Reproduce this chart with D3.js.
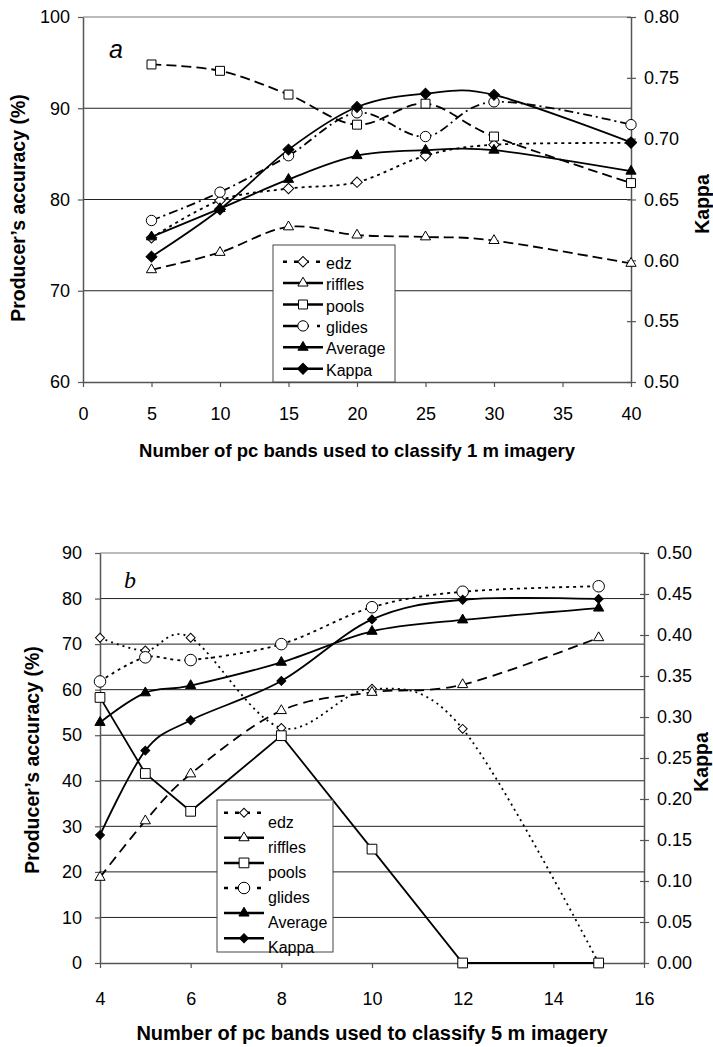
<!DOCTYPE html>
<html>
<head>
<meta charset="utf-8">
<script src="https://cdn.jsdelivr.net/npm/d3@7"></script>
<style>
  body { margin: 0; background: #fff; }
  svg { display: block; font-family: "Liberation Sans", Arial, sans-serif; }
</style>
</head>
<body>
<div id="chart"></div>
<script>
// Panel a - 1 m imagery
const bandsA = [5, 10, 15, 20, 25, 30, 40];
const edzA = [75.8, 79.9, 81.2, 81.9, 84.8, 86.0, 86.2];
const rifflesA = [72.3, 74.2, 77.0, 76.1, 75.9, 75.5, 73.0];
const poolsA = [94.8, 94.1, 91.5, 88.2, 90.5, 86.9, 81.8];
const glidesA = [77.7, 80.8, 84.8, 89.5, 86.9, 90.7, 88.2];
const averageA = [75.9, 79.0, 82.2, 84.8, 85.4, 85.4, 83.1];
const kappaA = [0.603, 0.642, 0.691, 0.726, 0.737, 0.736, 0.697];

// Panel b - 5 m imagery
const bandsB = [4, 5, 6, 8, 10, 12, 15];
const edzB = [71.4, 68.6, 71.4, 51.6, 60.2, 51.4, 0];
const rifflesB = [18.8, 31.2, 41.5, 55.4, 59.4, 61.1, 71.4];
const poolsB = [58.3, 41.6, 33.3, 49.9, 25.0, 0, 0];
const glidesB = [61.8, 67.1, 66.5, 70.0, 78.1, 81.5, 82.7];
const averageB = [52.8, 59.3, 60.9, 66.0, 72.8, 75.3, 77.9];
const kappaB = [0.156, 0.259, 0.296, 0.344, 0.419, 0.443, 0.444];

// Tick values
const ticksA = { x: d3.range(0, 41, 5), y: [60, 70, 80, 90, 100], k: [0.5, 0.55, 0.6, 0.65, 0.7, 0.75, 0.8] };
const ticksB = { x: d3.range(4, 17, 2), y: d3.range(0, 91, 10), k: d3.range(0, 11).map((i) => i * 0.05) };

const svg = d3.select("#chart").append("svg").attr("width", 713).attr("height", 1047);

const smooth = d3.curveCardinal.tension(0);

// draw a symbol at a point
function marker(g, shape, x, y, filled, size) {
  let type = d3.symbolCircle, rot = 0;
  if (shape === "diamond") { type = d3.symbolSquare; rot = 45; }
  if (shape === "square") type = d3.symbolSquare;
  if (shape === "triangle") type = d3.symbolTriangle;
  g.append("path")
    .attr("d", d3.symbol().type(type).size(size)())
    .attr("transform", `translate(${x},${y}) rotate(${rot})`)
    .attr("fill", filled ? "#000" : "#fff")
    .attr("stroke", "#000")
    .attr("stroke-width", 1);
}

function drawPanel(p) {
  const g = svg.append("g");
  const [x0, x1] = p.x.range();
  const [y0, y1] = p.y.range();

  // gridlines
  p.grid.forEach((v) => {
    g.append("line")
      .attr("x1", x0).attr("x2", x1)
      .attr("y1", p.y(v)).attr("y2", p.y(v))
      .attr("stroke", v === p.y.domain()[1] ? "#777" : "#222")
      .attr("stroke-width", 1);
  });

  // axes
  const left = g.append("g").attr("transform", `translate(${x0},0)`)
    .call(d3.axisLeft(p.y).tickValues(p.ticks.y).tickSize(5).tickSizeOuter(0).tickPadding(p.padL));
  const right = g.append("g").attr("transform", `translate(${x1},0)`)
    .call(d3.axisRight(p.k).tickValues(p.ticks.k).tickFormat(d3.format(".2f")).tickSize(5).tickSizeOuter(0).tickPadding(8));
  right.selectAll(".tick line").attr("x1", -4);
  const bottom = g.append("g").attr("transform", `translate(0,${y0})`)
    .call(d3.axisBottom(p.x).tickValues(p.ticks.x).tickSize(5).tickSizeOuter(0).tickPadding(p.padB));
  [left, right, bottom].forEach((a) => {
    a.select(".domain").attr("stroke", "#555").attr("stroke-width", 1.5);
    a.selectAll(".tick line").attr("stroke", "#555").attr("stroke-width", 1.2);
    a.selectAll("text").attr("font-size", 18).attr("fill", "#000")
      .attr("font-family", '"Liberation Sans", Arial, sans-serif');
  });

  // series
  p.series.forEach((s) => {
    const yScale = s.kappa ? p.k : p.y;
    const pts = p.bands.map((b, i) => [p.x(b), yScale(s.values[i])]);
    g.append("path")
      .attr("d", d3.line().curve(s.linear ? d3.curveLinear : smooth)(pts))
      .attr("fill", "none")
      .attr("stroke", "#000")
      .attr("stroke-width", 1.8)
      .attr("stroke-dasharray", s.dash || null);
  });
  p.series.forEach((s) => {
    const yScale = s.kappa ? p.k : p.y;
    p.bands.forEach((b, i) => marker(g, s.shape, p.x(b), yScale(s.values[i]), s.filled, s.size));
  });

  // legend
  const L = p.legend;
  g.append("rect")
    .attr("x", L.x).attr("y", L.y).attr("width", L.w).attr("height", L.h)
    .attr("fill", "#fff").attr("stroke", "#444").attr("stroke-width", 1);
  p.series.forEach((s, i) => {
    const ry = L.y + L.first + i * L.step;
    g.append("line")
      .attr("x1", L.x + L.lx0).attr("x2", L.x + L.lx1)
      .attr("y1", ry).attr("y2", ry)
      .attr("stroke", "#000").attr("stroke-width", 2.5)
      .attr("stroke-dasharray", s.legendDash || null);
    marker(g, s.shape, L.x + (L.lx0 + L.lx1) / 2, ry, s.filled, s.size);
    g.append("text")
      .attr("x", L.x + L.tx).attr("y", ry + L.ty)
      .attr("font-size", 16)
      .text(s.name);
  });

  // titles
  g.append("text")
    .attr("x", (x0 + x1) / 2).attr("y", p.xTitleY)
    .attr("text-anchor", "middle").attr("font-weight", "bold").attr("font-size", p.xTitleSize)
    .text(p.xTitle);
  g.append("text")
    .attr("transform", `translate(${p.yTitleX},${p.yTitleC}) rotate(-90)`)
    .attr("text-anchor", "middle").attr("font-weight", "bold").attr("font-size", 19.5)
    .text("Producer\u2019s accuracy (%)");
  g.append("text")
    .attr("transform", `translate(${p.kTitleX},${p.kTitleC}) rotate(-90)`)
    .attr("text-anchor", "middle").attr("font-weight", "bold").attr("font-size", 19.5)
    .text("Kappa");
  g.append("text")
    .attr("x", p.tag.x).attr("y", p.tag.y)
    .attr("font-style", "italic").attr("font-size", p.tag.size)
    .attr("font-family", p.tag.font)
    .text(p.tag.text);
}

drawPanel({
  bands: bandsA,
  x: d3.scaleLinear().domain([0, 40]).range([83, 631]),
  y: d3.scaleLinear().domain([60, 100]).range([382, 17]),
  k: d3.scaleLinear().domain([0.5, 0.8]).range([382, 17]),
  ticks: ticksA,
  grid: [70, 80, 90, 100],
  padL: 8, padB: 20,
  series: [
    { name: "edz", values: edzA, shape: "diamond", size: 55, dash: "3,4", legendDash: "4,7" },
    { name: "riffles", values: rifflesA, shape: "triangle", size: 45, dash: "10,5" },
    { name: "pools", values: poolsA, shape: "square", size: 80, dash: "10,5" },
    { name: "glides", values: glidesA, shape: "circle", size: 85, dash: "9,4,2,4", legendDash: "26,8,3,20" },
    { name: "Average", values: averageA, shape: "triangle", size: 45, filled: true },
    { name: "Kappa", values: kappaA, shape: "diamond", size: 60, filled: true, kappa: true }
  ],
  legend: { x: 273, y: 245, w: 122, h: 137, first: 16.7, step: 21.4, lx0: 10, lx1: 50, tx: 53, ty: 7 },
  xTitle: "Number of pc bands used to classify 1 m imagery",
  xTitleY: 457, xTitleSize: 18.5,
  yTitleX: 25, yTitleC: 208,
  kTitleX: 709, kTitleC: 204,
  tag: { text: "a", x: 109, y: 58, size: 25, font: '"Liberation Sans", Arial, sans-serif' }
});

drawPanel({
  bands: bandsB,
  x: d3.scaleLinear().domain([4, 16]).range([100, 644]),
  y: d3.scaleLinear().domain([0, 90]).range([963, 553]),
  k: d3.scaleLinear().domain([0, 0.5]).range([963, 553]),
  ticks: ticksB,
  grid: d3.range(10, 91, 10),
  padL: 13, padB: 24,
  series: [
    { name: "edz", values: edzB, shape: "diamond", size: 40, dash: "2,4", legendDash: "4,7" },
    { name: "riffles", values: rifflesB, shape: "triangle", size: 45, dash: "10,6" },
    { name: "pools", values: poolsB, shape: "square", size: 95, linear: true },
    { name: "glides", values: glidesB, shape: "circle", size: 105, dash: "3,4", legendDash: "4,7" },
    { name: "Average", values: averageB, shape: "triangle", size: 45, filled: true },
    { name: "Kappa", values: kappaB, shape: "diamond", size: 40, filled: true, kappa: true }
  ],
  legend: { x: 217, y: 800, w: 116, h: 152, first: 12.7, step: 25.1, lx0: 7, lx1: 47, tx: 51, ty: 15 },
  xTitle: "Number of pc bands used to classify 5 m imagery",
  xTitleY: 1040, xTitleSize: 20,
  yTitleX: 39, yTitleC: 760,
  kTitleX: 708, kTitleC: 762,
  tag: { text: "b", x: 124, y: 588, size: 24, font: '"Liberation Serif", "Times New Roman", serif' }
});
</script>
</body>
</html>
